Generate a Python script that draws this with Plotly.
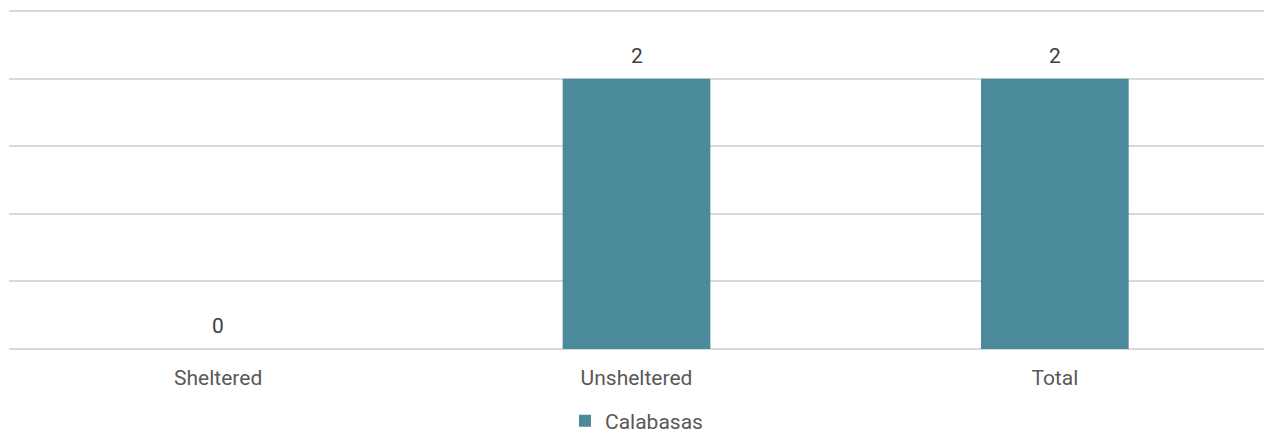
import plotly.graph_objects as go

categories = ["Sheltered", "Unsheltered", "Total"]
values = [0, 2, 2]
series_name = "Calabasas"

BAR_COLOR = "#4A8A9A"
GRID_COLOR = "#D9D9D9"
FONT = "Roboto"
FS = 21

fig = go.Figure()
fig.add_trace(go.Bar(
    x=categories, y=values, name=series_name,
    marker=dict(color=BAR_COLOR, line=dict(width=0)),
    width=0.353,
    showlegend=True,
))

for c, v in zip(categories, values):
    fig.add_annotation(
        x=c, y=v, text=str(v), showarrow=False,
        yanchor="middle", yshift=23,
        font=dict(family=FONT, size=FS, color="#404040"),
    )

fig.update_layout(
    width=1264, height=434,
    margin=dict(l=9, r=0, t=7, b=85, autoexpand=False),
    paper_bgcolor="white", plot_bgcolor="white",
    font=dict(family=FONT, size=FS, color="#595959"),
    legend=dict(orientation="h", x=0.5, xanchor="center", yref="container", y=0.030,
                yanchor="middle",
                font=dict(family=FONT, size=FS, color="#595959"),
                itemwidth=30),
)
fig.update_xaxes(showgrid=False, showline=False, ticks="", tickfont=dict(size=FS, color="#595959"),
                 ticklabelstandoff=14, automargin=False)
fig.update_yaxes(range=[0, 2.53], tick0=0, dtick=0.5, showticklabels=False, gridcolor=GRID_COLOR,
                 gridwidth=2, zeroline=True, zerolinecolor=GRID_COLOR, zerolinewidth=2,
                 showline=False, automargin=False)

fig.write_html("out.html", config={"displayModeBar": False},
               post_script="document.body.style.margin='0';document.body.style.overflow='hidden';")
